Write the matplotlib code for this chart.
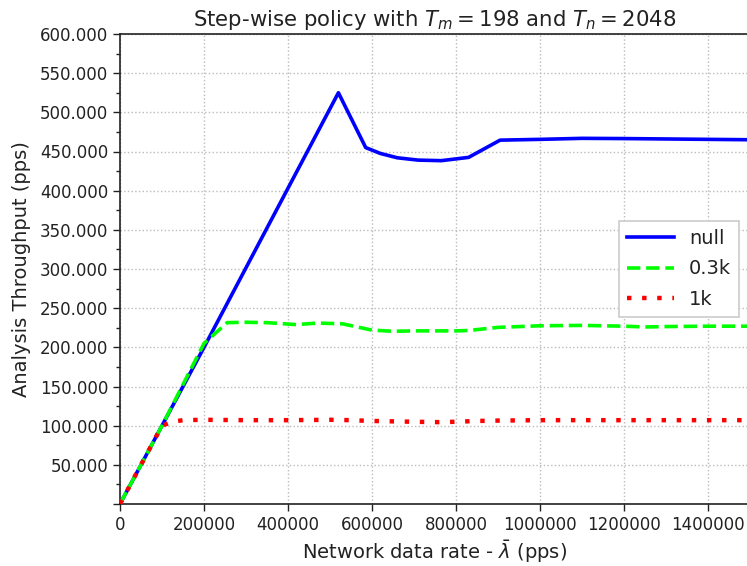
import matplotlib
matplotlib.use("Agg")
import matplotlib.pyplot as plt
from matplotlib.ticker import FuncFormatter, MultipleLocator

# Network data rate (pps) and measured analysis throughput (pps)
rate_null = [0, 100000, 200000, 520000, 585000, 620000, 660000, 710000, 765000,
             830000, 905000, 1000000, 1100000, 1200000, 1300000, 1400000, 1500000]
thr_null = [0, 100000, 200000, 525000, 455000, 447500, 442000, 439000, 438300,
            442500, 464500, 465500, 466800, 466500, 466000, 465500, 465000]

rate_03k = [0, 100000, 200000, 255000, 300000, 350000, 420000, 470000, 530000,
            600000, 650000, 700000, 800000, 830000, 900000, 1000000, 1100000,
            1200000, 1250000, 1300000, 1400000, 1500000]
thr_03k = [0, 100000, 205000, 231500, 232000, 231500, 229000, 231000, 230000,
           222000, 220500, 221000, 221000, 221500, 225500, 227500, 228000,
           227000, 226000, 226500, 227000, 227000]

rate_1k = [0, 100000, 125000, 150000, 200000, 300000, 400000, 500000, 550000,
           600000, 650000, 700000, 760000, 800000, 850000, 900000, 1000000,
           1200000, 1500000]
thr_1k = [0, 100000, 105000, 107000, 107500, 107000, 107000, 107500, 107000,
          106000, 105500, 105000, 104500, 105000, 106000, 106500, 107000,
          107000, 107000]

series_labels = ["null", "0.3k", "1k"]
x_ticks = [0, 200000, 400000, 600000, 800000, 1000000, 1200000, 1400000]

text_color = "#222222"
plt.rcParams["font.family"] = ["DejaVu Sans"]
plt.rcParams["text.color"] = text_color
plt.rcParams["axes.labelcolor"] = text_color
plt.rcParams["xtick.color"] = text_color
plt.rcParams["ytick.color"] = text_color

fig = plt.figure(figsize=(7.47, 5.66), dpi=100)
W, H = 747, 566
ax = fig.add_axes([120 / W, 1 - 504 / H, 630 / W, 470 / H])

ax.plot(rate_null, thr_null, color="#0000ff", lw=2.6, label=series_labels[0], zorder=3)
ax.plot(rate_03k, thr_03k, color="#00ff00", lw=2.6, linestyle="--",
        label=series_labels[1], zorder=4)
ax.plot(rate_1k, thr_1k, color="#ff0000", lw=3.2, linestyle=(0, (1, 2.4)),
        label=series_labels[2], zorder=5)

ax.set_xlim(0, 1500000)
ax.set_ylim(0, 600000)
ax.set_xticks(x_ticks)
ax.xaxis.set_major_formatter(FuncFormatter(lambda v, p: f"{int(v)}"))
ax.yaxis.set_major_locator(MultipleLocator(50000))
ax.yaxis.set_minor_locator(MultipleLocator(25000))
ax.yaxis.set_major_formatter(
    FuncFormatter(lambda v, p: "" if v <= 0 else f"{v / 1000:.3f}"))

ax.tick_params(axis="both", which="major", direction="out", length=5, width=1,
               labelsize=12, top=False, right=False)
ax.tick_params(axis="y", which="minor", direction="out", length=3, width=1,
               right=False)

ax.grid(True, which="major", linestyle=":", color="#bbbbbb", linewidth=1)
ax.set_axisbelow(True)
for side in ["left", "bottom", "top"]:
    ax.spines[side].set_color("#222222")
    ax.spines[side].set_linewidth(1.2)
ax.spines["right"].set_visible(False)

ax.set_title(r"Step-wise policy with $T_m = 198$ and $T_n = 2048$", fontsize=15.3,
             pad=6)
ax.set_xlabel(r"Network data rate - $\bar{\lambda}$ (pps)", fontsize=14, labelpad=3)
ax.set_ylabel("Analysis Throughput (pps)", fontsize=14, labelpad=6)

leg = ax.legend(loc="upper right", bbox_to_anchor=(739 / W, 1 - 221 / H),
                bbox_transform=fig.transFigure, borderaxespad=0, fontsize=14,
                fancybox=False, handlelength=2.4, handletextpad=0.8,
                labelspacing=0.6, framealpha=1)
leg.get_frame().set_edgecolor("#cccccc")
leg.get_frame().set_linewidth(1.2)

fig.savefig("out.png", dpi=100)
